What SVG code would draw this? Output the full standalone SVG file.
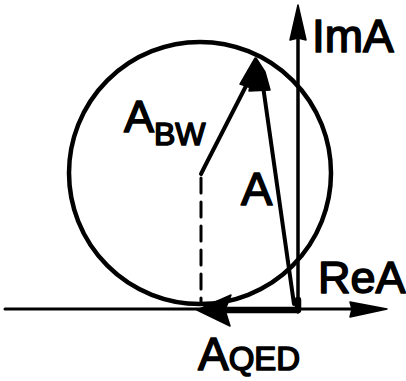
<svg xmlns="http://www.w3.org/2000/svg" width="406" height="381" viewBox="0 0 406 381">
<style>
.ln{fill:none;stroke:#000;stroke-linecap:round;stroke-linejoin:round}
.hd{fill:#000;stroke:#000;stroke-width:1.5;stroke-linejoin:round}
.lbl{font-family:"Liberation Sans",Arial,sans-serif;fill:#000;stroke:#000;stroke-width:1.6;stroke-linejoin:round}
</style>
<rect width="406" height="381" fill="#fff"/>
<g id="circle">
<circle class="ln" cx="200" cy="173" r="131" stroke-width="4.5"/>
</g>
<g id="connectors">
<g id="real-axis">
<line class="ln" x1="5" y1="309" x2="352" y2="309" stroke-width="3"/>
<polygon class="hd" points="387,309 350,302 352,309 350,317"/>
</g>
<g id="imag-axis">
<line class="ln" x1="298" y1="312" x2="298" y2="38" stroke-width="3.5"/>
<polygon class="hd" points="298,5 306,40 298,38 290,40"/>
</g>
<g id="A_QED">
<polyline class="ln" points="298,300 298,310 222,310" stroke-width="6.5"/>
<polygon class="hd" points="197,310 231,295 225,310 230,326"/>
</g>
<g id="dashed">
<line class="ln" x1="201" y1="178" x2="201" y2="304" stroke-width="3" stroke-dasharray="15 9" stroke-linecap="butt"/>
</g>
<g id="A_BW">
<polyline class="ln" points="201,174 205,166 246,86" stroke-width="4"/>
<polygon class="hd" points="255,58 240,84 257,90"/>
</g>
<g id="A">
<line class="ln" x1="294" y1="304" x2="263" y2="86" stroke-width="4"/>
<polygon class="hd" points="256,58 249,91 270,90 265,72"/>
</g>
</g>
<g id="labels">
<text class="lbl" x="312" y="52" font-size="46">ImA</text>
<text class="lbl" x="318" y="293" font-size="45">ReA</text>
<text class="lbl" x="241" y="205" font-size="47">A</text>
<text class="lbl" x="124" y="132" font-size="45">A<tspan font-size="32" dy="13">BW</tspan></text>
<text class="lbl" x="198" y="370" font-size="46">A<tspan font-size="33">QED</tspan></text>
</g>
</svg>
